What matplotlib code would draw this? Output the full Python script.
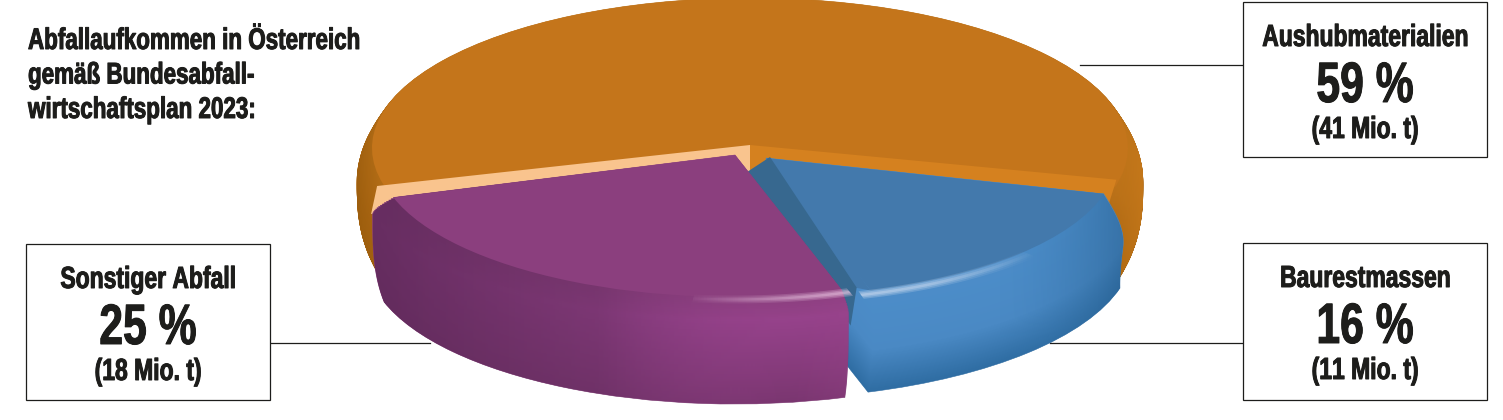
import numpy as np
import matplotlib
matplotlib.use("Agg")
import matplotlib.pyplot as plt
import matplotlib.patheffects as pe
from matplotlib.colors import to_rgb
from matplotlib.font_manager import FontProperties, findfont
from matplotlib.patches import Rectangle
from matplotlib.path import Path

# ---- data -------------------------------------------------------------
categories = ["Aushubmaterialien", "Sonstiger Abfall", "Baurestmassen"]
shares = [59, 25, 16]
tonnes = [41, 18, 11]
title_lines = ["Abfallaufkommen in Österreich", "gemäß Bundesabfall-", "wirtschaftsplan 2023:"]

# ---- styles -----------------------------------------------------------
W, H = 1503, 420
X0, Y0, RX, RY = 750.0, 148.0, 378.0, 150.0
START = -15
TXT = "#1d1d1b"


def condensed_font(k=0.75):
    """Write a horizontally narrowed copy of Liberation Sans Bold and return its properties."""
    try:
        from fontTools.ttLib import TTFont
        src = findfont(FontProperties(family="Liberation Sans", weight="bold"))
        f = TTFont(src)
        glyf = f["glyf"]
        for name in glyf.keys():
            g = glyf[name]
            if g.isComposite():
                for comp in g.components:
                    comp.x = int(round(comp.x * k))
            elif g.numberOfContours > 0:
                g.coordinates.scale((k, 1))
                g.coordinates.toInt()
            g.recalcBounds(glyf)
        hmtx = f["hmtx"]
        for name, (adv, lsb) in list(hmtx.metrics.items()):
            hmtx.metrics[name] = (int(round(adv * k)), int(round(lsb * k)))
        for tag in ["fpgm", "prep", "cvt ", "hdmx", "LTSH", "VDMX", "kern", "GPOS", "GSUB", "DSIG", "gasp"]:
            if tag in f:
                del f[tag]
        f.save("condensed_bold.ttf")
        return {"fontproperties": FontProperties(fname="condensed_bold.ttf")}
    except Exception:
        return {"family": ["Liberation Sans", "DejaVu Sans"], "weight": "bold"}


FONT = condensed_font()
HEAVY = [pe.withStroke(linewidth=0.7, foreground=TXT)]


def dx(p): return (p - X0) / RX
def dy(p): return (Y0 - p) / RY


fig = plt.figure(figsize=(W / 100, H / 100), dpi=100)
ax = fig.add_axes([0, 0, 1, 1])


def limits():
    ax.set_aspect("auto")
    ax.set_xlim(dx(0), dx(W))
    ax.set_ylim(dy(H), dy(0))
    ax.set_axis_off()


def angles():
    return np.cumsum([0] + shares) / sum(shares) * 360 + START


def slice_stack(idx, top, bottom, r_face, r_max, r_bot, bevel, c_top, c_mid, c_bot, z, n=100):
    """Stack pie slices from the bottom up; returns the wedge outlines."""
    paths = []
    c_top, c_mid, c_bot = map(np.array, (to_rgb(c_top), to_rgb(c_mid), to_rgb(c_bot)))
    for t in np.linspace(1, 0, n):
        cx = top[0] + (bottom[0] - top[0]) * t
        cy = top[1] + (bottom[1] - top[1]) * t
        if t < bevel:
            r = r_face + (r_max - r_face) * np.sin(np.pi / 2 * t / bevel)
            col = c_top + (c_mid - c_top) * (t / bevel)
        else:
            s = (t - bevel) / (1 - bevel)
            r = r_max + (r_bot - r_max) * s ** 3
            col = c_mid + (c_bot - c_mid) * s
        wedges, _ = ax.pie(shares, startangle=START, center=(dx(cx), dy(cy)), radius=r / RX,
                           colors=[tuple(col)] * 3, wedgeprops=dict(linewidth=0.4, edgecolor=tuple(col)))
        for i, w in enumerate(wedges):
            if i == idx:
                w.set_zorder(z)
                paths.append(w.get_path())
            else:
                w.remove()
    return Path.make_compound_path(*paths)


def face(idx, center, r, color, z):
    wedges, _ = ax.pie(shares, startangle=START, center=(dx(center[0]), dy(center[1])), radius=r / RX,
                       colors=[color] * 3, wedgeprops=dict(linewidth=0))
    for i, w in enumerate(wedges):
        if i == idx:
            w.set_zorder(z)
        else:
            w.remove()


def shade(path, stops, z):
    """Horizontal translucent gradient clipped to a path."""
    xs = np.linspace(0, 1, 752)
    rgba = np.zeros((1, 752, 4))
    px = [s[0] for s in stops]
    for k in range(3):
        rgba[0, :, k] = np.interp(xs * W, px, [to_rgb(s[1])[k] for s in stops])
    rgba[0, :, 3] = np.interp(xs * W, px, [s[2] for s in stops])
    im = ax.imshow(rgba, extent=(dx(0), dx(W), dy(H), dy(0)), aspect="auto", zorder=z, interpolation="bilinear")
    im.set_clip_path(path, transform=ax.transData)


def rim_point(theta, center, r):
    t = np.radians(theta)
    return center[0] + r * np.cos(t), center[1] - r * RY / RX * np.sin(t)


def polygon(points, color, z):
    pts = np.array(points)
    ax.fill(dx(pts[:, 0]), dy(pts[:, 1]), color=color, lw=0, zorder=z)


def band(center, r0, r1, a0, a1):
    th = np.linspace(a0, a1, 80)
    x0, y0 = rim_point(th, center, r0)
    x1, y1 = rim_point(th[::-1], center, r1)
    v = np.column_stack([dx(np.r_[x0, x1]), dy(np.r_[y0, y1])])
    return Path(np.vstack([v, v[:1]]), closed=True)


def highlight(center, r, a0, a1, color, stops, z):
    """Soft glint along an arc: three nested gradient bands."""
    for half, share in [(10, .3), (6.5, .35), (3, .45)]:
        shade(band(center, r - half, r + half, a0, a1),
              [(x, color, al * share) for x, al in stops], z)


a = angles()

# ---- orange slice --------------------------------------------------------
O_C = (750, 148)
op = slice_stack(0, O_C, (750, 245), 378, 393, 378, 0.35, "#bb7219", "#b06a14", "#a8650f", 2)
shade(op, [(358, "#8a5208", .45), (395, "#8a5208", .0), (1090, "#b06a14", 0), (1143, "#d07f1e", .6)], 2.5)
face(0, O_C, 378, "#c4751b", 3)
sl = rim_point(a[1] - 3, O_C, 385)
sr = rim_point(a[0] + 2.7, O_C, 375)
polygon([(O_C[0], O_C[1] - 3), sl, (sl[0] - 6, sl[1] + 28), (O_C[0], O_C[1] + 32)], "#f9c48e", 3.2)
polygon([(O_C[0], O_C[1] - 3), sr, (sr[0] - 10, sr[1] + 32), (O_C[0], O_C[1] + 32)], "#d5811f", 3.2)

# ---- blue slice ----------------------------------------------------------
B_C = (766, 158)
B_B = (755, 249)
bp = slice_stack(2, B_C, B_B, 350, 376, 378, 0.55, "#4c8dc9", "#4a89c4", "#2f6da3", 4)
shade(bp, [(850, "#3f80ba", 0), (1000, "#3f80ba", 0), (1127, "#2c6597", .65)], 4.5)
face(2, B_C, 350, "#4379ac", 5)
c = rim_point(a[2], B_C, 350)
polygon([(B_C[0] + 4, B_C[1] - 1), c, (c[0] - 16, c[1] - 3)], "#4379ac", 5.1)
polygon([(B_C[0] + 4, B_C[1] - 1), (c[0] - 14, c[1] - 3), (c[0] - 20, c[1] + 35), (B_C[0] - 22, B_C[1] + 16)],
        "#37688f", 5.2)
highlight(B_C, 358, a[2] - 2, a[2] + 30, "#dbe4f4", [(850, .85), (930, .7), (1040, 0)], 5.3)

# ---- purple slice --------------------------------------------------------
P_C = (735, 155)
P_B = (735, 258)
pp = slice_stack(1, P_C, P_B, 358, 380, 368, 0.14, "#8b3f7e", "#96428b", "#7a3670", 6)
shade(pp, [(372, "#5f2a5a", .85), (600, "#682f62", .55), (790, "#9b4590", .0), (850, "#a1488f", .25)], 6.5)
face(1, P_C, 358, "#8b3f7e", 7)
highlight(P_C, 364, a[2] - 24, a[2] + 1, "#ecc9e4", [(680, 0), (790, .65), (850, .9)], 7.3)

limits()

# ---- leader lines and boxes ------------------------------------------------
for (x0, x1, y) in [(1080, 1243, 65), (270, 430, 343), (1050, 1243, 343)]:
    ax.plot([dx(x0), dx(x1)], [dy(y), dy(y)], color="#1d1d1b", lw=0.9, zorder=1)

boxes = [(1243, 2, 244, 155), (26, 244, 244, 156), (1243, 243, 244, 157)]
for i, (bx, by, bw, bh) in enumerate(boxes):
    ax.add_patch(Rectangle((dx(bx), dy(by + bh)), bw / RX, bh / RY, fc="white", ec="#1d1d1b", lw=0.9, zorder=9))
    cx = dx(bx + bw / 2)
    ax.text(cx, dy(by + 44), categories[i], fontsize=22, color=TXT, ha="center", va="baseline", zorder=10,
            path_effects=HEAVY, **FONT)
    ax.text(cx, dy(by + 100), f"{shares[i]} %", fontsize=41, color=TXT, ha="center", va="baseline", zorder=10,
            path_effects=HEAVY, **FONT)
    ax.text(cx, dy(by + 136), f"({tonnes[i]} Mio. t)", fontsize=22, color=TXT, ha="center", va="baseline", zorder=10,
            path_effects=HEAVY, **FONT)

for y, line in zip([49, 83.5, 118], title_lines):
    ax.text(dx(28), dy(y), line, fontsize=21.5, color=TXT, ha="left", va="baseline", zorder=10,
            path_effects=HEAVY, **FONT)

limits()
fig.savefig("out.png", dpi=100, facecolor="white")
